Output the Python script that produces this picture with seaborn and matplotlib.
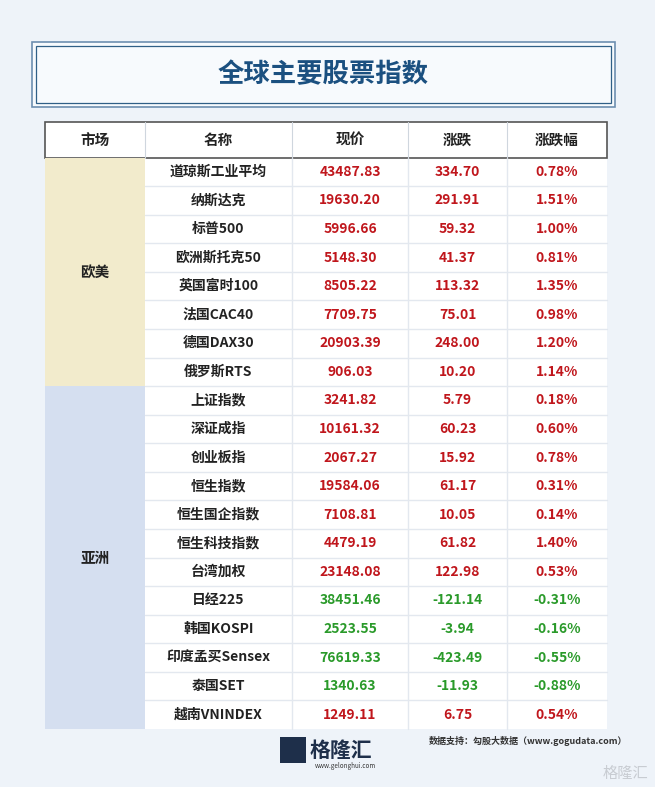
import matplotlib
matplotlib.use("Agg")
import matplotlib.pyplot as plt
import seaborn as sns
from matplotlib.patches import Rectangle

sns.set_theme(style="white")
plt.rcParams['font.family'] = ['Noto Sans CJK SC', 'DejaVu Sans']

title = "全球主要股票指数"
headers = ["市场", "名称", "现价", "涨跌", "涨跌幅"]
markets = ["欧美", "亚洲"]
market_counts = [8, 12]
names = ["道琼斯工业平均", "纳斯达克", "标普500", "欧洲斯托克50", "英国富时100", "法国CAC40",
         "德国DAX30", "俄罗斯RTS", "上证指数", "深证成指", "创业板指", "恒生指数", "恒生国企指数",
         "恒生科技指数", "台湾加权", "日经225", "韩国KOSPI", "印度孟买Sensex", "泰国SET", "越南VNINDEX"]
prices = ["43487.83", "19630.20", "5996.66", "5148.30", "8505.22", "7709.75", "20903.39", "906.03",
          "3241.82", "10161.32", "2067.27", "19584.06", "7108.81", "4479.19", "23148.08", "38451.46",
          "2523.55", "76619.33", "1340.63", "1249.11"]
changes = ["334.70", "291.91", "59.32", "41.37", "113.32", "75.01", "248.00", "10.20",
           "5.79", "60.23", "15.92", "61.17", "10.05", "61.82", "122.98", "-121.14",
           "-3.94", "-423.49", "-11.93", "6.75"]
pcts = ["0.78%", "1.51%", "1.00%", "0.81%", "1.35%", "0.98%", "1.20%", "1.14%",
        "0.18%", "0.60%", "0.78%", "0.31%", "0.14%", "1.40%", "0.53%", "-0.31%",
        "-0.16%", "-0.55%", "-0.88%", "0.54%"]
source = "数据支持：勾股大数据（www.gogudata.com）"

W, H = 655, 787
fig = plt.figure(figsize=(W/100, H/100), dpi=100)
fig.patch.set_facecolor("#eef3f9")
ax = fig.add_axes([0, 0, 1, 1])
ax.set_xlim(0, W); ax.set_ylim(H, 0); ax.axis("off")

ax.add_patch(Rectangle((32, 42), 583, 65, fill=True, fc="#f7fafd", ec="#6d8fb0", lw=1.2))
ax.add_patch(Rectangle((36, 46), 575, 57, fill=False, ec="#2f5f86", lw=0.9))
ax.text(323, 75, title, ha="center", va="center", fontsize=19, fontweight="bold", color="#1b5080")

cols = [45, 145, 292, 408, 507, 607]
top, hh = 122, 35.5
y0 = top + hh
bottom = 729
n = len(prices)
rh = (bottom - y0) / n

ax.add_patch(Rectangle((cols[1], y0), cols[5]-cols[1], bottom-y0, fc="white", ec="none"))
for i in range(1, n):
    ax.plot([cols[1], cols[5]], [y0+i*rh]*2, color="#e3e8ef", lw=1)
for c in cols[2:-1]:
    ax.plot([c, c], [y0, bottom], color="#e3e8ef", lw=1)

ax.add_patch(Rectangle((cols[0], top), cols[5]-cols[0], hh, fc="white", ec="#555555", lw=1.2))
for c in cols[1:-1]:
    ax.plot([c, c], [top, top+hh], color="#cfd6de", lw=0.8)
for i, h in enumerate(headers):
    ax.text((cols[i]+cols[i+1])/2, top+hh/2, h, ha="center", va="center", fontsize=10.5,
            fontweight="bold", color="#222222")

mcolors = ["#f2ebcc", "#d5dff0"]
start = 0
for m, cnt, mc in zip(markets, market_counts, mcolors):
    ya = y0 + start*rh
    ax.add_patch(Rectangle((cols[0], ya), cols[1]-cols[0], cnt*rh, fc=mc, ec="none"))
    ax.text((cols[0]+cols[1])/2, ya + cnt*rh/2, m, ha="center", va="center", fontsize=10.5,
            fontweight="bold", color="#222222")
    start += cnt

for i in range(n):
    yc = y0 + (i+0.5)*rh
    col = "#2a9a2a" if changes[i].startswith("-") else "#c0161c"
    ax.text((cols[1]+cols[2])/2, yc, names[i], ha="center", va="center", fontsize=10,
            fontweight="bold", color="#222222")
    for j, v in enumerate([prices[i], changes[i], pcts[i]]):
        ax.text((cols[j+2]+cols[j+3])/2, yc, v, ha="center", va="center", fontsize=10,
                fontweight="bold", color=col)

ax.add_patch(Rectangle((280, 737), 26, 26, fc="#1e2f4a", ec="none"))
ax.text(310, 750, "格隆汇", ha="left", va="center", fontsize=15, fontweight="bold", color="#1e2f4a")
ax.text(315, 766, "www.gelonghui.com", ha="left", va="center", fontsize=4.5, color="#333333")
ax.text(627, 741, source, ha="right", va="center", fontsize=6.5, fontweight="bold", color="#333333")
ax.text(648, 773, "格隆汇", ha="right", va="center", fontsize=11, color="#c8ccd2")

fig.savefig("out.png", dpi=100, facecolor=fig.get_facecolor())
